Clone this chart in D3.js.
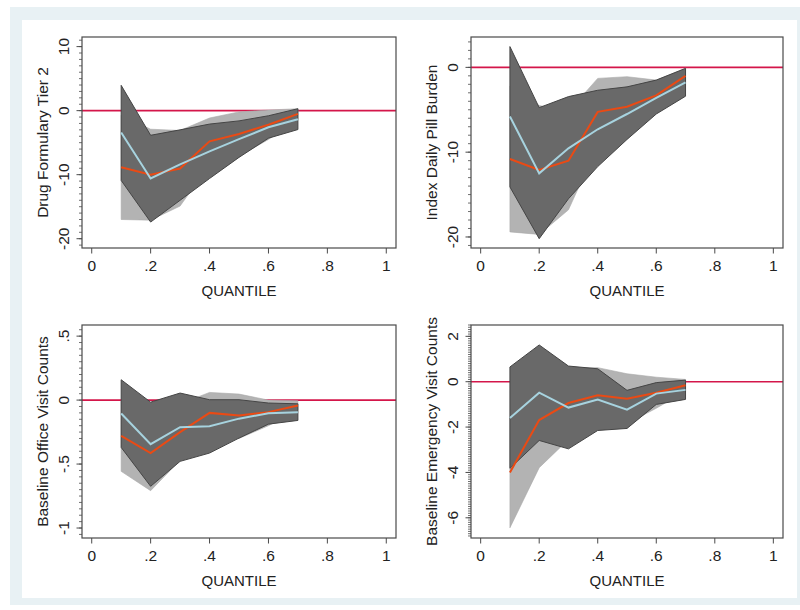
<!DOCTYPE html>
<html>
<head>
<meta charset="utf-8">
<script src="https://cdn.jsdelivr.net/npm/d3@7"></script>
<style>
  body { margin: 0; background: #fff; }
  svg { display: block; font-family: "Liberation Sans", Arial, Helvetica, sans-serif; }
</style>
</head>
<body>
<div id="chart"></div>
<script>
// quantiles shared by all four panels
const quantiles = [0.1, 0.2, 0.3, 0.4, 0.5, 0.6, 0.7];
const xTicks = [0, 0.2, 0.4, 0.6, 0.8, 1];

// Drug Formulary Tier 2
const tier2Blue    = [-3.4, -10.6, -8.4, -6.35, -4.45, -2.6, -1.35];
const tier2DarkHi  = [3.95, -3.85, -3.0, -2.1, -1.6, -0.8, 0.3];
const tier2DarkLo  = [-10.9, -17.4, -14.0, -10.6, -7.3, -4.3, -2.95];
const tier2Orange  = [-8.85, -10.0, -9.05, -4.8, -3.65, -2.2, -0.5];
const tier2LightHi = [-0.7, -2.9, -3.1, -1.15, -0.2, 0.1, 0.3];
const tier2LightLo = [-17.0, -17.1, -14.9, -8.45, -7.1, -4.5, -1.3];

// Index Daily Pill Burden
const pillBlue    = [-5.8, -12.5, -9.55, -7.3, -5.5, -3.6, -1.77];
const pillDarkHi  = [2.45, -4.75, -3.45, -2.7, -2.3, -1.5, -0.12];
const pillDarkLo  = [-14.1, -20.2, -15.5, -11.7, -8.5, -5.5, -3.4];
const pillOrange  = [-10.8, -12.1, -11.0, -5.25, -4.65, -3.3, -1.0];
const pillLightHi = [-2.2, -4.5, -5.2, -1.3, -1.1, -1.5, -0.1];
const pillLightLo = [-19.4, -19.7, -16.8, -9.2, -8.2, -5.1, -1.9];

// Baseline Office Visit Counts
const officeBlue    = [-0.105, -0.345, -0.212, -0.205, -0.145, -0.103, -0.095];
const officeDarkHi  = [0.159, -0.016, 0.055, 0.003, 0.003, -0.023, -0.029];
const officeDarkLo  = [-0.37, -0.674, -0.479, -0.414, -0.297, -0.188, -0.159];
const officeOrange  = [-0.279, -0.414, -0.25, -0.10, -0.12, -0.094, -0.042];
const officeLightHi = [0.0, -0.12, -0.03, 0.06, 0.047, 0.0, -0.005];
const officeLightLo = [-0.557, -0.708, -0.47, -0.26, -0.30, -0.20, -0.08];

// Baseline Emergency Visit Counts
const erBlue    = [-1.6, -0.485, -1.14, -0.79, -1.23, -0.525, -0.36];
const erDarkHi  = [0.65, 1.62, 0.69, 0.57, -0.38, -0.04, 0.07];
const erDarkLo  = [-3.82, -2.59, -2.96, -2.15, -2.06, -1.0, -0.78];
const erOrange  = [-4.0, -1.69, -0.94, -0.6, -0.75, -0.485, -0.16];
const erLightHi = [-1.58, 0.41, 0.6, 0.62, 0.35, 0.2, 0.1];
const erLightLo = [-6.44, -3.79, -2.55, -1.82, -1.85, -1.17, -0.42];

const panels = [
  { title: "Drug Formulary Tier 2", left: 82, top: 37, w: 314, h: 211,
    yDomain: [-21.45, 11.5], yTicks: [-20, -10, 0, 10], minorStep: 1,
    blue: tier2Blue, darkHi: tier2DarkHi, darkLo: tier2DarkLo,
    orange: tier2Orange, lightHi: tier2LightHi, lightLo: tier2LightLo },
  { title: "Index Daily Pill Burden", left: 471, top: 37, w: 312, h: 211,
    yDomain: [-21.3, 3.58], yTicks: [-20, -10, 0], minorStep: 1,
    blue: pillBlue, darkHi: pillDarkHi, darkLo: pillDarkLo,
    orange: pillOrange, lightHi: pillLightHi, lightLo: pillLightLo },
  { title: "Baseline Office Visit Counts", left: 82, top: 325, w: 314, h: 213,
    yDomain: [-1.078, 0.587], yTicks: [-1, -0.5, 0, 0.5], minorStep: 0.05,
    blue: officeBlue, darkHi: officeDarkHi, darkLo: officeDarkLo,
    orange: officeOrange, lightHi: officeLightHi, lightLo: officeLightLo },
  { title: "Baseline Emergency Visit Counts", left: 471, top: 325, w: 312, h: 213,
    yDomain: [-6.89, 2.5], yTicks: [-6, -4, -2, 0, 2], minorStep: 0.1,
    blue: erBlue, darkHi: erDarkHi, darkLo: erDarkLo,
    orange: erOrange, lightHi: erLightHi, lightLo: erLightLo }
];

// stata style labels: .5, -.5
const fmt = d => d === 0 ? "0" : String(+d.toFixed(4)).replace(/^(-?)0\./, "$1.");

const svg = d3.select("#chart").append("svg")
  .attr("width", 800)
  .attr("height", 610);

// outer frame
svg.append("rect").attr("x", 10).attr("y", 7).attr("width", 790).attr("height", 598).attr("fill", "#e8f1f4");
svg.append("rect").attr("x", 22).attr("y", 20).attr("width", 775).attr("height", 578).attr("fill", "#ffffff");

panels.forEach(p => {
  const g = svg.append("g").attr("transform", "translate(" + p.left + "," + p.top + ")");

  const x = d3.scaleLinear().domain([-0.033, 1.033]).range([0, p.w]);
  const y = d3.scaleLinear().domain(p.yDomain).range([p.h, 0]);

  const rows = quantiles.map((q, i) => ({
    q: q, blue: p.blue[i], dHi: p.darkHi[i], dLo: p.darkLo[i],
    orange: p.orange[i], lHi: p.lightHi[i], lLo: p.lightLo[i]
  }));

  // zero reference line (behind the bands)
  g.append("line")
    .attr("x1", 0).attr("x2", p.w)
    .attr("y1", y(0)).attr("y2", y(0))
    .attr("stroke", "#d4164a").attr("stroke-width", 1.6);

  const lightArea = d3.area().x(d => x(d.q)).y0(d => y(d.lLo)).y1(d => y(d.lHi));
  const darkArea = d3.area().x(d => x(d.q)).y0(d => y(d.dLo)).y1(d => y(d.dHi));

  g.append("path").datum(rows)
    .attr("d", lightArea)
    .attr("fill", "#b3b3b3")
    .attr("stroke", "#a8a8a8").attr("stroke-width", 0.6);

  g.append("path").datum(rows)
    .attr("d", darkArea)
    .attr("fill", "#696969")
    .attr("stroke", "#454545").attr("stroke-width", 1);

  g.append("path").datum(rows)
    .attr("d", d3.line().x(d => x(d.q)).y(d => y(d.orange)))
    .attr("fill", "none").attr("stroke", "#ea4a14").attr("stroke-width", 2);

  g.append("path").datum(rows)
    .attr("d", d3.line().x(d => x(d.q)).y(d => y(d.blue)))
    .attr("fill", "none").attr("stroke", "#a7d3df").attr("stroke-width", 2);

  // frame
  g.append("rect").attr("width", p.w).attr("height", p.h)
    .attr("fill", "none").attr("stroke", "#4a4a4a").attr("stroke-width", 1.2);

  // y axis: minor ticks, then major ticks with rotated labels
  const lo = Math.ceil(p.yDomain[0] / p.minorStep - 1e-6);
  const hi = Math.floor(p.yDomain[1] / p.minorStep + 1e-6);
  const minor = d3.range(lo, hi + 1).map(k => k * p.minorStep);
  g.selectAll(".ymin").data(minor).enter().append("line")
    .attr("x1", -3).attr("x2", 0)
    .attr("y1", d => y(d)).attr("y2", d => y(d))
    .attr("stroke", "#4a4a4a").attr("stroke-width", 0.8);

  g.selectAll(".ymaj").data(p.yTicks).enter().append("line")
    .attr("x1", -5.5).attr("x2", 0)
    .attr("y1", d => y(d)).attr("y2", d => y(d))
    .attr("stroke", "#4a4a4a").attr("stroke-width", 1);

  g.selectAll(".ylab").data(p.yTicks).enter().append("text")
    .attr("transform", d => "translate(-18.5," + y(d) + ") rotate(-90)")
    .attr("text-anchor", "middle")
    .attr("dy", "0.36em")
    .attr("font-size", 15.5)
    .attr("fill", "#222")
    .text(fmt);

  g.append("text")
    .attr("transform", "translate(-40," + (p.h / 2) + ") rotate(-90)")
    .attr("text-anchor", "middle")
    .attr("dy", "0.36em")
    .attr("font-size", 15.5)
    .attr("fill", "#222")
    .text(p.title);

  // x axis
  g.selectAll(".xmaj").data(xTicks).enter().append("line")
    .attr("x1", d => x(d)).attr("x2", d => x(d))
    .attr("y1", p.h).attr("y2", p.h + 5.5)
    .attr("stroke", "#4a4a4a").attr("stroke-width", 1);

  g.selectAll(".xlab").data(xTicks).enter().append("text")
    .attr("x", d => x(d))
    .attr("y", p.h + 22.5)
    .attr("text-anchor", "middle")
    .attr("font-size", 15.5)
    .attr("fill", "#222")
    .text(fmt);

  g.append("text")
    .attr("x", p.w / 2)
    .attr("y", p.h + 48)
    .attr("text-anchor", "middle")
    .attr("font-size", 15)
    .attr("fill", "#222")
    .text("QUANTILE");
});
</script>
</body>
</html>
